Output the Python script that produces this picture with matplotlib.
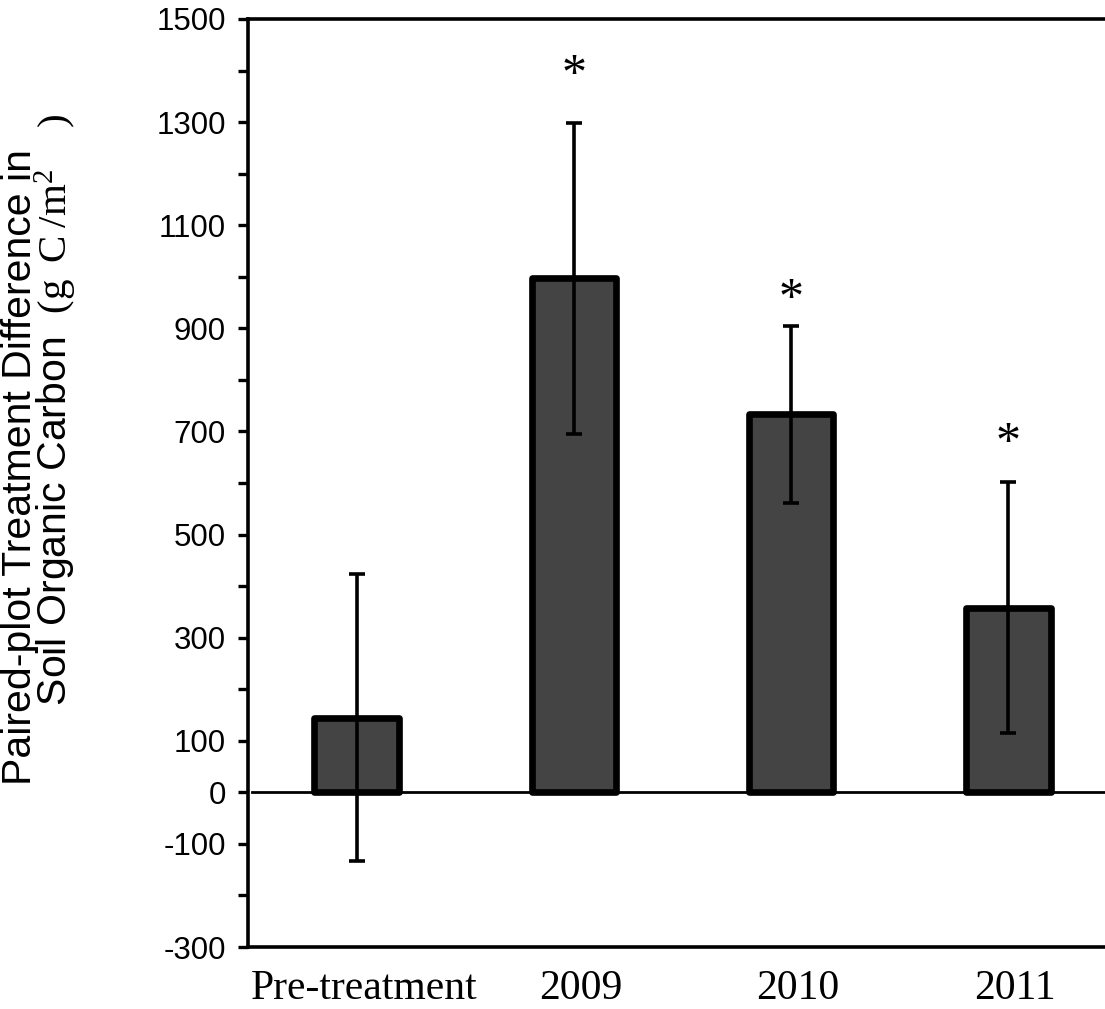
import matplotlib
matplotlib.use('Agg')
import matplotlib.pyplot as plt
from matplotlib.transforms import ScaledTranslation

# data
categories = ['Pre-treatment', '2009', '2010', '2011']
means = [145, 997, 733, 358]
errors = [278, 302, 171, 243]
# height (centre of the asterisk) of the significance marks, None = no mark
star_heights = [None, 1412, 977, 698]

y_ticks = list(range(-300, 1501, 100))
y_labelled = [1500, 1300, 1100, 900, 700, 500, 300, 100, 0, -100, -300]

plt.rcParams['mathtext.fontset'] = 'custom'
plt.rcParams['mathtext.rm'] = 'Liberation Serif'
plt.rcParams['mathtext.it'] = 'Liberation Serif:italic'

W, H = 1105, 1009
fig = plt.figure(figsize=(W / 100, H / 100), dpi=100)
ax = fig.add_axes([248 / W, 1 - 947 / H, (1117 - 248) / W, (947 - 19) / H])

x = list(range(len(categories)))
bars = ax.bar(x, means, width=0.39, color='#444444', edgecolor='black',
              linewidth=4.8, zorder=2)
for b in bars:
    b.set_joinstyle('round')
ax.errorbar(x, means, yerr=errors, fmt='none', ecolor='black', elinewidth=2.6,
            capsize=5.5, capthick=2.6, zorder=3)
ax.axhline(0, xmin=0.005, color='black', linewidth=2.0, zorder=1)

for xi, s in zip(x, star_heights):
    if s is None:
        continue
    # the * glyph sits high in its box, so nudge the box down
    ax.annotate('*', (xi, s), xytext=(0, -8), textcoords='offset points',
                ha='center', va='center', fontsize=36,
                family='Liberation Serif')

ax.set_xlim(-0.5, 3.5)
ax.set_ylim(-300, 1500)

ax.spines['right'].set_visible(False)
for side in ['left', 'top', 'bottom']:
    ax.spines[side].set_linewidth(2.6)

ax.set_yticks(y_ticks)
ax.set_yticklabels([str(t) if t in y_labelled else '' for t in y_ticks],
                   family='Liberation Sans', fontsize=22.5)
ax.tick_params(axis='y', direction='out', length=7, width=2.4, pad=9)

ax.set_xticks(x)
ax.set_xticklabels(categories, family='Liberation Serif', fontsize=30)
ax.tick_params(axis='x', length=0, pad=16)
shift = ScaledTranslation(7 / 100, 0, fig.dpi_scale_trans)
for lab in ax.get_xticklabels():
    lab.set_transform(lab.get_transform() + shift)

# y axis title: one text, second line pushed along with leading spaces
ylab = ('Paired-plot Treatment Difference in\n'
        '       Soil Organic Carbon  '
        r'$\mathrm{(g\;\;C\;/m^{2}\;\;\;\;\;)}$')
fig.text(40 / W, 1 - 785 / H, ylab, rotation=90, ha='center', va='bottom',
         multialignment='left', linespacing=0.8, fontsize=29.5,
         family='Liberation Sans')

fig.savefig('out.png', dpi=100)
